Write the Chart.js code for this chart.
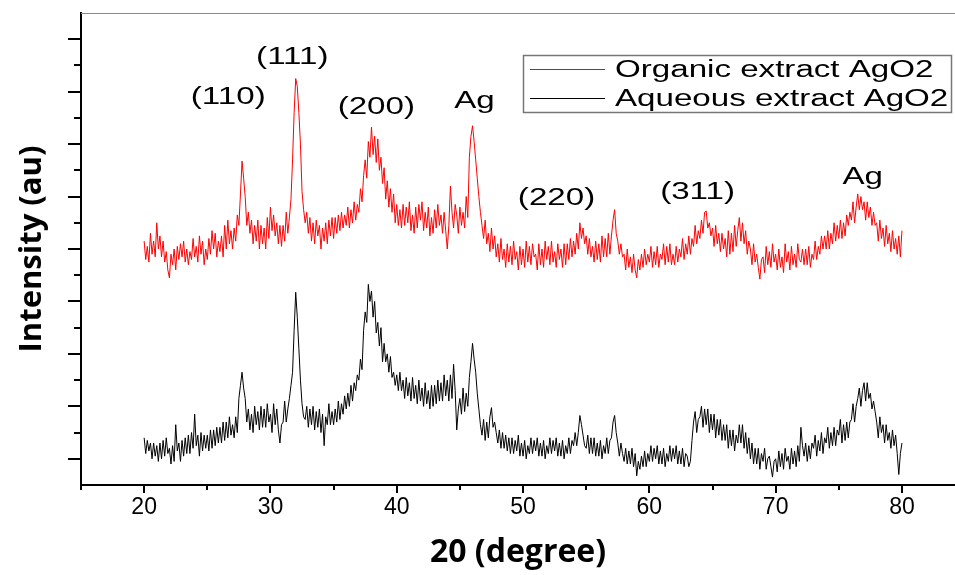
<!DOCTYPE html>
<html>
<head>
<meta charset="utf-8">
<title>XRD AgO2</title>
<script src="https://cdn.jsdelivr.net/npm/chart.js"></script>
<style>
  html, body { margin: 0; padding: 0; background: #fff; }
  #wrap { width: 955px; height: 575px; }
</style>
</head>
<body>
<div id="wrap"><canvas id="xrd" width="955" height="575"></canvas></div>
<script>
// 2theta grid: 20..80 deg, 0.125 deg step
const startDeg = 20;
const stepDeg = 0.125;

// intensity (au), 100 = one y tick spacing; one line per degree
const organic = [
  930, 860, 910, 850, 960, 880, 930, 870,      // 20
  1000, 900, 950, 870, 930, 850, 890, 820,     // 21
  790, 880, 840, 900, 820, 910, 860, 920,      // 22
  870, 930, 850, 900, 840, 890, 860, 940,      // 23
  870, 910, 850, 950, 880, 930, 840, 900,      // 24
  860, 940, 880, 970, 900, 960, 870, 930,      // 25
  890, 950, 870, 990, 900, 1010, 920, 970,     // 26
  900, 980, 930, 1030, 990, 1110, 1235, 1170,  // 27
  1100, 990, 1040, 960, 1010, 920, 990, 930,   // 28
  1010, 900, 990, 920, 980, 900, 1020, 940,    // 29
  1060, 970, 1030, 950, 1000, 920, 990, 910,   // 30
  990, 930, 1040, 960, 1020, 1090, 1240, 1420, // 31
  1550, 1520, 1420, 1300, 1120, 1050, 1000, 1040, // 32
  960, 1020, 930, 1000, 920, 1010, 950, 990,   // 33
  900, 980, 930, 1000, 920, 1010, 950, 1020,   // 34
  940, 1020, 960, 1030, 970, 1040, 980, 1030,  // 35
  990, 1060, 980, 1050, 1000, 1080, 1010, 1070, // 36
  1040, 1130, 1080, 1180, 1240, 1170, 1310, 1250, // 37
  1365, 1260, 1330, 1230, 1320, 1200, 1250, 1150, // 38
  1210, 1090, 1160, 1060, 1130, 1040, 1110, 1000, // 39
  1070, 990, 1050, 980, 1070, 990, 1060, 1000, // 40
  1080, 970, 1030, 960, 1060, 980, 1070, 1010, // 41
  1080, 970, 1040, 980, 1060, 950, 1020, 960,  // 42
  1050, 980, 1070, 990, 1030, 960, 1040, 970,  // 43
  900, 990, 1140, 1040, 980, 1070, 1030, 960,  // 44
  1060, 990, 1040, 980, 1100, 1020, 1250, 1330, // 45
  1370, 1310, 1240, 1170, 1100, 1040, 990, 940, // 46
  1010, 920, 960, 890, 980, 900, 950, 870,     // 47
  920, 850, 940, 860, 900, 830, 920, 850,      // 48
  910, 840, 930, 860, 890, 820, 910, 840,      // 49
  900, 830, 930, 850, 910, 840, 920, 870,      // 50
  880, 820, 920, 840, 900, 830, 930, 860,      // 51
  910, 840, 930, 850, 890, 830, 920, 860,      // 52
  900, 830, 920, 840, 920, 860, 940, 870,      // 53
  930, 880, 960, 900, 1000, 940, 980, 920,     // 54
  950, 880, 940, 870, 910, 850, 930, 860,      // 55
  920, 850, 950, 870, 940, 870, 960, 880,      // 56
  950, 1010, 1050, 960, 930, 880, 920, 870,    // 57
  880, 820, 900, 830, 870, 810, 880, 820,      // 58
  790, 860, 820, 880, 830, 900, 840, 880,      // 59
  850, 910, 830, 890, 840, 910, 830, 880,      // 60
  860, 920, 840, 910, 850, 920, 840, 880,      // 61
  840, 910, 850, 900, 870, 940, 860, 920,      // 62
  880, 950, 880, 940, 910, 990, 920, 970,      // 63
  940, 1010, 960, 1040, 1045, 980, 1000, 950,  // 64
  980, 910, 990, 920, 960, 890, 960, 900,      // 65
  940, 870, 970, 880, 960, 890, 990, 910,      // 66
  970, 1020, 930, 1000, 920, 970, 880, 930,    // 67
  900, 840, 920, 850, 880, 830, 785, 860,      // 68
  870, 810, 910, 840, 890, 830, 920, 850,      // 69
  880, 820, 900, 830, 870, 810, 920, 850,      // 70
  890, 820, 910, 840, 880, 830, 920, 860,      // 71
  850, 900, 840, 900, 840, 910, 830, 880,      // 72
  860, 930, 860, 910, 880, 950, 900, 950,      // 73
  900, 970, 900, 960, 920, 1000, 930, 990,     // 74
  940, 1010, 940, 1000, 950, 1030, 990, 1040,  // 75
  1010, 1080, 1000, 1060, 1110, 1050, 1100, 1050, // 76
  1080, 1010, 1080, 1020, 1060, 990, 1040, 990, // 77
  1000, 930, 1010, 940, 980, 910, 990, 920,    // 78
  960, 890, 970, 900, 940, 880, 950, 870,      // 79
  970                                          // 80
];

const aqueous = [
  180, 120, 170, 130, 160, 100, 160, 110,      // 20
  150, 90, 160, 100, 170, 110, 180, 120,       // 21
  140, 80, 150, 90, 230, 130, 160, 90,         // 22
  170, 110, 180, 120, 190, 120, 200, 140,      // 23
  270, 150, 190, 110, 200, 130, 190, 140,      // 24
  190, 130, 210, 140, 210, 150, 220, 160,      // 25
  220, 160, 240, 170, 240, 180, 260, 190,      // 26
  230, 180, 260, 200, 330, 380, 430, 370,      // 27
  330, 240, 290, 210, 270, 200, 300, 230,      // 28
  280, 210, 300, 220, 290, 220, 310, 240,      // 29
  270, 200, 310, 230, 290, 210, 160, 230,      // 30
  240, 320, 240, 290, 330, 380, 430, 590,      // 31
  735, 640, 520, 400, 310, 260, 250, 300,      // 32
  220, 290, 230, 300, 210, 280, 220, 290,      // 33
  200, 270, 150, 260, 230, 310, 230, 280,      // 34
  230, 290, 240, 320, 250, 310, 270, 340,      // 35
  290, 350, 300, 380, 320, 390, 360, 420,      // 36
  400, 480, 440, 590, 660, 620, 765, 700,      // 37
  740, 640, 700, 580, 620, 530, 600, 470,      // 38
  540, 470, 500, 430, 490, 410, 430, 380,      // 39
  420, 360, 430, 360, 400, 330, 410, 340,      // 40
  390, 320, 410, 330, 380, 310, 400, 320,      // 41
  370, 300, 390, 310, 360, 290, 380, 300,      // 42
  380, 310, 400, 320, 390, 320, 420, 340,      // 43
  400, 320, 420, 330, 460, 360, 210, 290,      // 44
  330, 270, 370, 280, 350, 300, 410, 470,      // 45
  540, 480, 430, 350, 290, 230, 190, 250,      // 46
  170, 240, 180, 260, 295, 220, 240, 200,      // 47
  160, 210, 140, 200, 140, 190, 130, 180,      // 48
  120, 180, 120, 170, 130, 190, 110, 160,      // 49
  110, 170, 100, 150, 120, 180, 120, 170,      // 50
  130, 180, 110, 160, 110, 170, 100, 150,      // 51
  120, 180, 120, 170, 130, 180, 110, 160,      // 52
  110, 170, 100, 150, 120, 180, 120, 170,      // 53
  150, 200, 150, 200, 265, 230, 190, 150,      // 54
  140, 190, 120, 180, 120, 180, 110, 160,      // 55
  110, 170, 100, 150, 120, 180, 120, 170,      // 56
  180, 240, 265, 200, 160, 110, 160, 120,      // 57
  90, 140, 80, 130, 80, 140, 70, 120,          // 58
  35, 90, 60, 110, 70, 130, 70, 120,           // 59
  90, 150, 90, 140, 100, 150, 80, 130,         // 60
  80, 140, 70, 120, 90, 150, 90, 140,          // 61
  100, 150, 80, 130, 80, 140, 70, 120,         // 62
  110, 70, 90, 170, 240, 280, 200, 250,        // 63
  260, 300, 220, 290, 230, 290, 200, 270,      // 64
  210, 270, 180, 250, 190, 250, 170, 230,      // 65
  170, 230, 140, 210, 150, 210, 130, 190,      // 66
  160, 230, 160, 230, 140, 200, 120, 180,      // 67
  100, 160, 80, 140, 80, 140, 60, 120,         // 68
  90, 140, 60, 100, 110, 70, 30, 90,           // 69
  100, 50, 130, 70, 120, 60, 140, 90,          // 70
  110, 60, 140, 80, 130, 70, 150, 90,          // 71
  220, 150, 110, 160, 90, 150, 100, 160,       // 72
  140, 190, 110, 170, 130, 200, 120, 180,      // 73
  160, 220, 140, 200, 150, 220, 150, 210,      // 74
  190, 250, 160, 230, 170, 240, 180, 240,      // 75
  250, 310, 240, 300, 330, 370, 300, 360,      // 76
  390, 320, 390, 330, 350, 290, 320, 280,      // 77
  240, 180, 260, 200, 230, 160, 230, 170,      // 78
  200, 140, 210, 150, 190, 120, 40, 120,       // 79
  160                                          // 80
];

const xLabels = [20, 30, 40, 50, 60, 70, 80];
const xTickMarks = [15, 20, 25, 30, 35, 40, 45, 50, 55, 60, 65, 70, 75, 80];
const yTickMarks = [100, 200, 300, 400, 500, 600, 700, 800, 900, 1000, 1100, 1200, 1300, 1400, 1500, 1600, 1700];

// peak labels: text, 2theta, intensity
const peakText = ['(110)', '(111)', '(200)', 'Ag', '(220)', '(311)', 'Ag'];
const peakDeg  = [26.66, 31.73, 38.38, 46.15, 52.65, 63.82, 76.89];
const peakInt  = [1476, 1631, 1440, 1463, 1093, 1116, 1173];

const seriesNames = ['Organic extract AgO2', 'Aqueous extract AgO2'];
const seriesColors = ['#ff0000', '#000000'];

const twoTheta = organic.map((_, i) => startDeg + i * stepDeg);
const toPoints = arr => arr.map((v, i) => ({ x: twoTheta[i], y: v }));

const TEXT_STRETCH = 1.44;

function wideText(ctx, text, x, y, align) {
  ctx.save();
  ctx.translate(x, y);
  ctx.scale(TEXT_STRETCH, 1);
  ctx.textAlign = align;
  ctx.textBaseline = 'middle';
  ctx.fillText(text, 0, 0);
  ctx.restore();
}

const decorations = {
  id: 'decorations',
  afterDraw(chart) {
    const { ctx, chartArea: a, scales: { x, y } } = chart;
    ctx.save();

    // thin grey frame line on top
    ctx.strokeStyle = '#8a8a8a';
    ctx.lineWidth = 1;
    ctx.beginPath();
    ctx.moveTo(a.left, a.top + 0.5);
    ctx.lineTo(a.right, a.top + 0.5);
    ctx.stroke();

    // tick marks (outside)
    ctx.strokeStyle = '#000';
    ctx.lineWidth = 2;
    ctx.beginPath();
    xTickMarks.forEach(v => {
      const px = Math.round(x.getPixelForValue(v));
      const len = v % 10 === 0 ? 8 : 5;
      ctx.moveTo(px, a.bottom);
      ctx.lineTo(px, a.bottom + len);
    });
    yTickMarks.forEach(v => {
      const py = Math.round(y.getPixelForValue(v));
      const len = (v / 100) % 2 === 1 ? 13 : 7;
      ctx.moveTo(a.left, py);
      ctx.lineTo(a.left - len, py);
    });
    ctx.stroke();

    // peak labels
    ctx.fillStyle = '#000';
    ctx.font = '23px "Liberation Sans", Arial, sans-serif';
    peakText.forEach((t, i) => {
      wideText(ctx, t, x.getPixelForValue(peakDeg[i]), y.getPixelForValue(peakInt[i]), 'center');
    });

    // legend box
    ctx.strokeStyle = '#777';
    ctx.lineWidth = 1.5;
    ctx.strokeRect(523.5, 55.5, 428, 57);
    const rows = [69.5, 98.5];
    rows.forEach((ry, i) => {
      ctx.strokeStyle = seriesColors[i];
      ctx.lineWidth = 1;
      ctx.beginPath();
      ctx.moveTo(530, ry);
      ctx.lineTo(605, ry);
      ctx.stroke();
      ctx.fillStyle = '#000';
      wideText(ctx, seriesNames[i], 615, ry + 1, 'left');
    });

    ctx.restore();
  }
};

new Chart(document.getElementById('xrd'), {
  type: 'line',
  data: {
    datasets: [
      {
        label: seriesNames[0],
        data: toPoints(organic),
        borderColor: seriesColors[0],
        borderWidth: 1,
        pointRadius: 0,
        tension: 0
      },
      {
        label: seriesNames[1],
        data: toPoints(aqueous),
        borderColor: seriesColors[1],
        borderWidth: 1,
        pointRadius: 0,
        tension: 0
      }
    ]
  },
  options: {
    responsive: false,
    animation: false,
    devicePixelRatio: 1,
    layout: { padding: { top: 13, right: 0, left: 0, bottom: 0 } },
    plugins: {
      legend: { display: false },
      tooltip: { enabled: false }
    },
    scales: {
      x: {
        type: 'linear',
        min: 15,
        max: 84.2,
        afterBuildTicks: s => { s.ticks = xLabels.map(v => ({ value: v })); },
        afterFit: s => { s.height = 90; },
        grid: { display: true, drawOnChartArea: false, drawTicks: false },
        border: { color: '#000', width: 2 },
        ticks: {
          color: '#000',
          padding: 9,
          maxRotation: 0,
          font: { family: '"Liberation Sans", Arial, sans-serif', size: 23 }
        },
        title: {
          display: true,
          text: '20 (degree)',
          color: '#000',
          padding: { bottom: 6 },
          font: { family: '"Open Sans", sans-serif', size: 32, weight: 'bold', lineHeight: 1 }
        }
      },
      y: {
        min: 0,
        max: 1800,
        afterFit: s => { s.width = 81; },
        grid: { display: true, drawOnChartArea: false, drawTicks: false },
        border: { color: '#000', width: 2 },
        ticks: { display: false },
        title: {
          display: true,
          text: 'Intensity (au)',
          color: '#000',
          padding: { top: 17 },
          font: { family: '"Open Sans", sans-serif', size: 31, weight: 'bold', lineHeight: 1 }
        }
      }
    }
  },
  plugins: [decorations]
});
</script>
</body>
</html>
